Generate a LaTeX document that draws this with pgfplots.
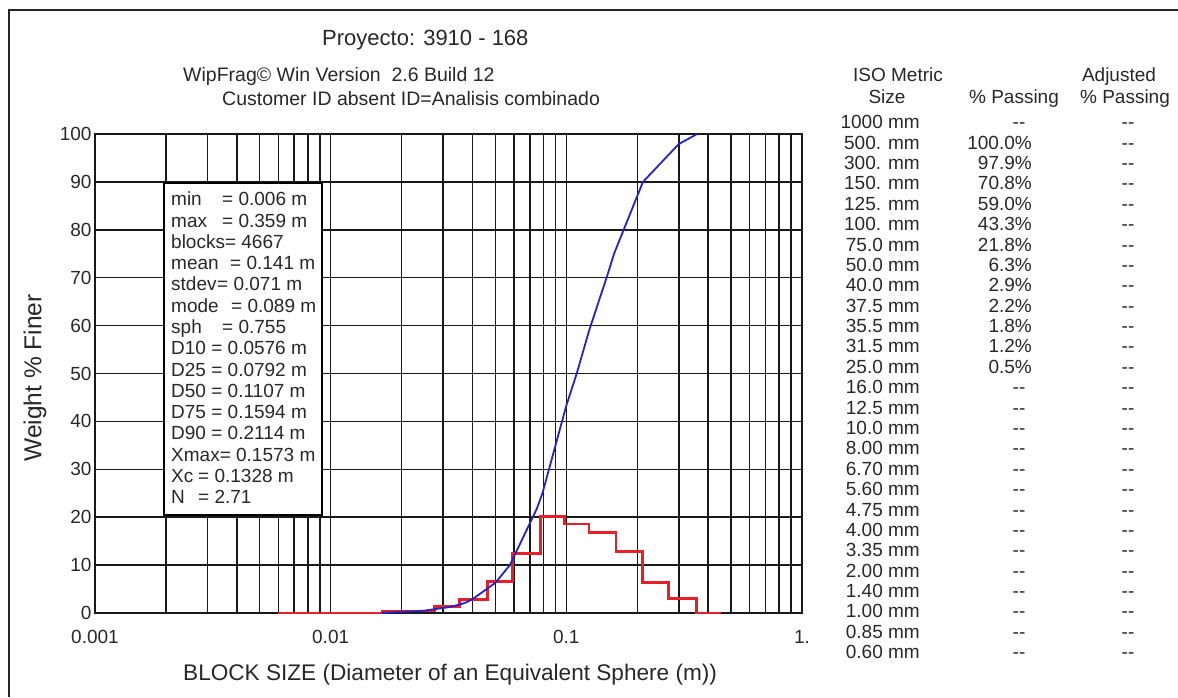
\documentclass[border=0pt]{standalone}
\usepackage{fontspec}
\setmainfont{Liberation Sans}
\usepackage{pgfplots}
\pgfplotsset{compat=1.18}
\definecolor{cblue}{RGB}{35,35,200}
\definecolor{cred}{RGB}{232,30,40}
\definecolor{ctext}{RGB}{40,40,40}
\newcommand{\fs}[1]{\fontsize{#1}{#1}\selectfont}
\begin{document}
\begin{tikzpicture}[x=1pt,y=-1pt]
\useasboundingbox (0,0) rectangle (1178,697);
\fill[white] (0,0) rectangle (1178,697);
\draw[line width=1.8pt, black!85] (9,697) -- (9,10) -- (1178,10);
\begin{axis}[at={(95pt,-613pt)}, anchor=south west,
  width=707pt, height=479pt, scale only axis,
  xmode=log, xmin=0.001, xmax=1, ymin=0, ymax=100,
  xtick={0.001,0.01,0.1,1}, xticklabels={0.001,0.01,0.1,1.},
  minor xtick={0.002,0.003,0.004,0.005,0.006,0.007,0.008,0.009,0.02,0.03,0.04,0.05,0.06,0.07,0.08,0.09,0.2,0.3,0.4,0.5,0.6,0.7,0.8,0.9},
  ytick={0,10,...,100},
  grid=both,
  major grid style={black!90, line width=1.5pt},
  minor grid style={black!90, line width=1.5pt},
  axis line style={black!90, line width=1.5pt},
  major tick length=0pt, minor tick length=0pt,
  tick label style={font=\fs{19}, text=ctext},
  xticklabel style={yshift=-14pt},
  /pgf/number format/assume math mode=true,
  clip=false]
\addplot[const plot, cred, line width=2.8pt] table {
x y
0.006 0
0.0165 0.4
0.0275 1.3
0.0352 2.9
0.0463 6.5
0.0589 12.5
0.0775 20.1
0.098 18.6
0.1247 16.8
0.1625 12.8
0.211 6.3
0.272 3.0
0.356 0
0.454 0
};
\addplot[cblue, line width=1.8pt] table {
x y
0.0165 0
0.025 0.5
0.0315 1.2
0.0355 1.8
0.0375 2.2
0.04 2.9
0.05 6.3
0.0576 10
0.075 21.8
0.0792 25
0.1 43.3
0.1107 50
0.125 59.0
0.15 70.8
0.1594 75
0.2114 90
0.3 97.9
0.359 100
};
\end{axis}
% titles
\node[anchor=base west, text=ctext, inner sep=0] at (322,45.5) {\fs{22}Proyecto: 3910 - 168};
\node[anchor=base west, text=ctext, inner sep=0] at (183,81.5) {\fs{19.5}WipFrag© Win Version\ \ 2.6 Build 12};
\node[anchor=base west, text=ctext, inner sep=0] at (222,105) {\fs{19.5}Customer ID absent ID=Analisis combinado};
% axis labels
\node[rotate=90, text=ctext, inner sep=0] at (35,378) {\fs{24.5}Weight \% Finer};
\node[anchor=base west, text=ctext, inner sep=0] at (183,680) {\fs{22.6}BLOCK SIZE (Diameter of an Equivalent Sphere (m))};
% stats box
\draw[fill=white, line width=1.3pt] (164,183) rectangle (322,515);
\foreach \t [count=\i from 0] in {
  {\makebox[51pt][l]{min}= 0.006 m},
  {\makebox[51pt][l]{max}= 0.359 m},
  {blocks= 4667},
  {\makebox[59pt][l]{mean}= 0.141 m},
  {\makebox[46pt][l]{stdev}= 0.071 m},
  {\makebox[60pt][l]{mode}= 0.089 m},
  {\makebox[51pt][l]{sph}= 0.755},
  {D10 = 0.0576 m},
  {D25 = 0.0792 m},
  {D50 = 0.1107 m},
  {D75 = 0.1594 m},
  {D90 = 0.2114 m},
  {Xmax= 0.1573 m},
  {\makebox[27pt][l]{Xc}= 0.1328 m},
  {\makebox[27pt][l]{N}= 2.71}}
  {\node[anchor=base west, text=ctext, inner sep=0] at (171,{205.8+21.29*\i}) {\fs{19}\t};}
% table headers
\node[anchor=base, text=ctext, inner sep=0] at (898,81.8) {\fs{19}ISO Metric};
\node[anchor=base, text=ctext, inner sep=0] at (887,103.8) {\fs{19}Size};
\node[anchor=base, text=ctext, inner sep=0] at (1014,103.8) {\fs{19}\% Passing};
\node[anchor=base, text=ctext, inner sep=0] at (1119,81.8) {\fs{19}Adjusted};
\node[anchor=base, text=ctext, inner sep=0] at (1125,103.8) {\fs{19}\% Passing};
% table rows
\foreach \s [count=\i from 0] in {1000 mm,500. mm,300. mm,150. mm,125. mm,100. mm,75.0 mm,50.0 mm,40.0 mm,37.5 mm,35.5 mm,31.5 mm,25.0 mm,16.0 mm,12.5 mm,10.0 mm,8.00 mm,6.70 mm,5.60 mm,4.75 mm,4.00 mm,3.35 mm,2.00 mm,1.40 mm,1.00 mm,0.85 mm,0.60 mm}
  {\node[anchor=base east, text=ctext, inner sep=0] at (920,{128.8+20.38*\i}) {\fs{19}\s};
   \node[anchor=base, text=ctext, inner sep=0] at (1128,{128.8+20.38*\i}) {\fs{19}-{}-};}
\foreach \p [count=\i from 1] in {100.0,97.9,70.8,59.0,43.3,21.8,6.3,2.9,2.2,1.8,1.2,0.5}
  {\node[anchor=base east, text=ctext, inner sep=0] at (1032,{128.8+20.38*\i}) {\fs{19}\p\%};}
\foreach \i in {0,13,14,...,26}
  {\node[anchor=base, text=ctext, inner sep=0] at (1019,{128.8+20.38*\i}) {\fs{19}-{}-};}
\end{tikzpicture}
\end{document}
